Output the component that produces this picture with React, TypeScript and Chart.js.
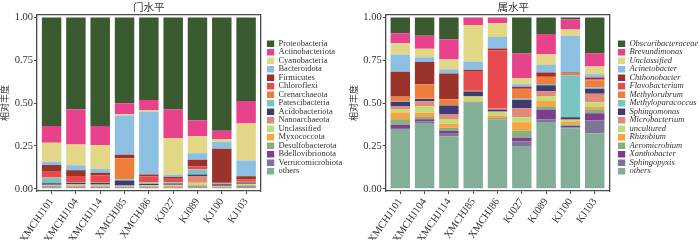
import React, { useEffect, useRef } from 'react';
import { Chart, registerables } from 'chart.js';

Chart.register(...registerables);

// ---------- data ----------
const samples = ['XMCHJ101', 'XMCHJ104', 'XMCHJ114', 'XMCHJ85', 'XMCHJ86', 'KJ027', 'KJ089', 'KJ100', 'KJ103'];
const yTicks = [0, 0.25, 0.5, 0.75, 1];

const palette = [
  '#3A5A2F', '#E8428C', '#E2D787', '#8DBFE3', '#9A3329', '#E84B4E', '#EE7E3A', '#79C5C4',
  '#403A73', '#E08A78', '#C3DB79', '#F6A53F', '#8DAD80', '#7D3E8D', '#7E7497', '#83AF98',
];

// phylum level (门水平)
const phylumNames = [
  'Proteobacteria', 'Actinobacteriota', 'Cyanobacteria', 'Bacteroidota', 'Firmicutes', 'Chloroflexi',
  'Crenarchaeota', 'Patescibacteria', 'Acidobacteriota', 'Nanoarchaeota', 'Unclassified', 'Myxococcota',
  'Desulfobacterota', 'Bdellovibrionota', 'Verrucomicrobiota', 'others',
];
const pProteobacteria = [0.633, 0.538, 0.634, 0.501, 0.482, 0.537, 0.600, 0.661, 0.488];
const pActinobacteriota = [0.098, 0.204, 0.110, 0.064, 0.058, 0.167, 0.092, 0.048, 0.131];
const pCyanobacteria = [0.112, 0.121, 0.139, 0.007, 0.009, 0.214, 0.100, 0.016, 0.216];
const pBacteroidota = [0.019, 0.029, 0.023, 0.230, 0.368, 0.014, 0.039, 0.042, 0.092];
const pFirmicutes = [0.039, 0.033, 0.015, 0.019, 0.012, 0.010, 0.038, 0.198, 0.018];
const pChloroflexi = [0.032, 0.035, 0.039, 0.002, 0.031, 0.018, 0.015, 0.004, 0.010];
const pCrenarchaeota = [0.003, 0.002, 0.002, 0.121, 0.004, 0.003, 0.003, 0.002, 0.005];
const pPatescibacteria = [0.032, 0.003, 0.003, 0.008, 0.008, 0.006, 0.029, 0.003, 0.004];
const pAcidobacteriota = [0.009, 0.008, 0.010, 0.029, 0.006, 0.008, 0.010, 0.008, 0.006];
const pNanoarchaeota = [0.002, 0.003, 0.003, 0.002, 0.003, 0.004, 0.039, 0.002, 0.004];
const pUnclassified = [0.002, 0.004, 0.003, 0.002, 0.003, 0.003, 0.010, 0.002, 0.003];
const pMyxococcota = [0.003, 0.006, 0.005, 0.002, 0.004, 0.005, 0.006, 0.003, 0.005];
const pDesulfobacterota = [0.003, 0.004, 0.004, 0.006, 0.003, 0.003, 0.008, 0.004, 0.004];
const pBdellovibrionota = [0.001, 0.002, 0.002, 0.001, 0.002, 0.001, 0.002, 0.001, 0.002];
const pVerrucomicrobiota = [0.002, 0.002, 0.002, 0.002, 0.002, 0.002, 0.003, 0.002, 0.002];
const pOthers = [0.010, 0.006, 0.006, 0.004, 0.005, 0.005, 0.006, 0.004, 0.010];
const phylumSeries = [
  pProteobacteria, pActinobacteriota, pCyanobacteria, pBacteroidota, pFirmicutes, pChloroflexi,
  pCrenarchaeota, pPatescibacteria, pAcidobacteriota, pNanoarchaeota, pUnclassified, pMyxococcota,
  pDesulfobacterota, pBdellovibrionota, pVerrucomicrobiota, pOthers,
];

// genus level (属水平)
const genusNames = [
  'Obscuribacteraceae', 'Brevundimonas', 'Unclassified', 'Acinetobacter', 'Chthonobacter', 'Flavobacterium',
  'Methylorubrum', 'Methyloparacoccus', 'Sphingomonas', 'Microbacterium', 'uncultured', 'Rhizobium',
  'Aeromicrobium', 'Xanthobacter', 'Sphingopyxis', 'others',
];
const gObscuribacteraceae = [0.093, 0.107, 0.128, 0.002, 0.002, 0.210, 0.097, 0.012, 0.210];
const gBrevundimonas = [0.058, 0.076, 0.117, 0.043, 0.031, 0.143, 0.117, 0.058, 0.077];
const gUnclassified = [0.066, 0.050, 0.058, 0.213, 0.082, 0.037, 0.064, 0.037, 0.045];
const gAcinetobacter = [0.100, 0.027, 0.025, 0.047, 0.066, 0.014, 0.044, 0.213, 0.019];
const gChthonobacter = [0.145, 0.130, 0.148, 0.012, 0.011, 0.013, 0.020, 0.003, 0.010];
const gFlavobacterium = [0.003, 0.002, 0.003, 0.106, 0.340, 0.005, 0.006, 0.006, 0.007];
const gMethylorubrum = [0.024, 0.082, 0.032, 0.008, 0.003, 0.052, 0.040, 0.008, 0.040];
const gMethyloparacoccus = [0.003, 0.002, 0.003, 0.002, 0.002, 0.008, 0.008, 0.245, 0.008];
const gSphingomonas = [0.028, 0.013, 0.052, 0.027, 0.012, 0.048, 0.035, 0.011, 0.029];
const gMicrobacterium = [0.018, 0.030, 0.027, 0.003, 0.003, 0.054, 0.027, 0.006, 0.050];
const gUncultured = [0.017, 0.038, 0.027, 0.026, 0.021, 0.028, 0.027, 0.012, 0.027];
const gRhizobium = [0.039, 0.024, 0.024, 0.004, 0.014, 0.048, 0.033, 0.014, 0.014];
const gAeromicrobium = [0.033, 0.013, 0.019, 0.003, 0.004, 0.043, 0.020, 0.008, 0.023];
const gXanthobacter = [0.018, 0.014, 0.016, 0.002, 0.002, 0.021, 0.056, 0.008, 0.043];
const gSphingopyxis = [0.011, 0.008, 0.015, 0.002, 0.002, 0.026, 0.016, 0.006, 0.076];
const gOthers = [0.344, 0.384, 0.306, 0.500, 0.405, 0.250, 0.390, 0.353, 0.322];
const genusSeries = [
  gObscuribacteraceae, gBrevundimonas, gUnclassified, gAcinetobacter, gChthonobacter, gFlavobacterium,
  gMethylorubrum, gMethyloparacoccus, gSphingomonas, gMicrobacterium, gUncultured, gRhizobium,
  gAeromicrobium, gXanthobacter, gSphingopyxis, gOthers,
];

// ---------- styling ----------
const SERIF = '"Liberation Serif", "Times New Roman", serif';
const CJK = '"Noto Sans CJK SC", sans-serif';
const TEXT = '#333333';
const FRAME = '#4a4a4a';

const nudge = {
  id: 'nudge',
  afterLayout(chart: any, _args: any, opts: any) {
    const dx = (opts && opts.titleDx) || 0;
    const dy = (opts && opts.legendDy) || 0;
    if (chart.titleBlock && dx) {
      chart.titleBlock.left += dx;
      chart.titleBlock.right += dx;
    }
    if (chart.legend && dy) {
      chart.legend.top += dy;
      chart.legend.bottom += dy;
    }
  },
};

type PanelProps = {
  left: number;
  width: number;
  padLeft: number;
  gap: number;
  legendWidth: number;
  titleDx: number;
  legendDy: number;
  title: string;
  names: string[];
  series: number[][];
  italic: boolean;
};

function Panel(p: PanelProps) {
  const ref = useRef<HTMLCanvasElement | null>(null);
  useEffect(() => {
    if (!ref.current) return;
    const datasets = p.names
      .map((name, i) => ({
        label: name,
        data: p.series[i].map((v, j) => ({ x: j, y: v })),
        backgroundColor: palette[i],
        borderWidth: 0,
        xAxisID: 'x',
        yAxisID: 'y',
        barPercentage: 0.8,
        categoryPercentage: 1,
      }))
      .reverse();

    const frameBorder = { display: true, color: FRAME, width: 1.3 };
    const chart = new Chart(ref.current, {
      type: 'bar',
      data: { datasets } as any,
      options: {
        responsive: false,
        animation: false,
        devicePixelRatio: 1,
        layout: { padding: { left: p.padLeft, right: 0, top: 0, bottom: 0 } },
        scales: {
          x: {
            type: 'linear',
            position: 'bottom',
            min: -0.6,
            max: 8.6,
            bounds: 'data',
            offset: false,
            stacked: true,
            afterBuildTicks: (a: any) => {
              a.ticks = samples.map((_, i) => ({ value: i }));
            },
            afterFit: (a: any) => {
              a.height = 49;
            },
            ticks: {
              autoSkip: false,
              minRotation: 55,
              maxRotation: 55,
              padding: 2,
              color: TEXT,
              font: { family: SERIF, size: 10.5 },
              callback: (v: any) => samples[Math.round(Number(v))] ?? '',
            },
            grid: { drawOnChartArea: false, drawTicks: true, tickLength: 3, color: FRAME, offset: false },
            border: frameBorder,
          },
          y: {
            type: 'linear',
            position: 'left',
            min: -0.013,
            max: 1.014,
            bounds: 'data',
            stacked: true,
            afterBuildTicks: (a: any) => {
              a.ticks = yTicks.map((v) => ({ value: v }));
            },
            afterFit: (a: any) => {
              a.width = 37;
            },
            ticks: {
              padding: 1,
              color: TEXT,
              font: { family: SERIF, size: 10.5 },
              callback: (v: any) => Number(v).toFixed(2),
            },
            grid: { drawOnChartArea: false, drawTicks: true, tickLength: 3, color: FRAME },
            border: frameBorder,
            title: {
              display: true,
              text: '相对丰度',
              color: TEXT,
              font: { family: CJK, size: 9, lineHeight: 1 },
              padding: 0,
            },
          },
          x2: {
            type: 'linear',
            position: 'top',
            display: true,
            grid: { drawOnChartArea: false, drawTicks: false },
            ticks: { display: false },
            border: frameBorder,
            afterFit: (a: any) => {
              a.height = 0;
            },
          },
          y2: {
            type: 'linear',
            position: 'right',
            display: true,
            grid: { drawOnChartArea: false, drawTicks: false },
            ticks: { display: false },
            border: frameBorder,
            afterFit: (a: any) => {
              a.width = p.gap;
            },
          },
        } as any,
        plugins: {
          title: {
            display: true,
            text: p.title,
            fullSize: false,
            color: TEXT,
            font: { family: CJK, size: 10.5, weight: 'normal' },
            padding: { top: 0.5, bottom: 1.9 },
          },
          legend: {
            display: true,
            position: 'right',
            align: 'center',
            fullSize: false,
            reverse: true,
            maxWidth: p.legendWidth,
            labels: {
              boxWidth: 7.5,
              boxHeight: 6.5,
              padding: 0,
              color: TEXT,
              font: { family: SERIF, size: 8.5, style: p.italic ? 'italic' : 'normal' },
            },
          },
          tooltip: { enabled: false },
          nudge: { titleDx: p.titleDx, legendDy: p.legendDy },
        } as any,
      },
      plugins: [nudge],
    });
    let alive = true;
    if ((document as any).fonts && (document as any).fonts.ready) {
      (document as any).fonts.ready.then(() => {
        if (alive) chart.update();
      });
    }
    return () => {
      alive = false;
      chart.destroy();
    };
  }, []);
  return (
    <canvas
      ref={ref}
      width={p.width}
      height={240}
      style={{ position: 'absolute', left: p.left, top: 0, width: p.width, height: 240 }}
    />
  );
}

export default function App() {
  return (
    <div
      style={{
        position: 'fixed',
        left: 0,
        top: 0,
        width: 700,
        height: 240,
        overflow: 'hidden',
        background: '#ffffff',
      }}
    >
      <Panel
        left={0}
        width={347}
        padLeft={0}
        gap={6}
        legendWidth={80.3}
        titleDx={0}
        legendDy={4.4}
        title="门水平"
        names={phylumNames}
        series={phylumSeries}
        italic={false}
      />
      <Panel
        left={340}
        width={360}
        padLeft={8.7}
        gap={8.4}
        legendWidth={82.3}
        titleDx={15.8}
        legendDy={4.4}
        title="属水平"
        names={genusNames}
        series={genusSeries}
        italic={true}
      />
    </div>
  );
}
